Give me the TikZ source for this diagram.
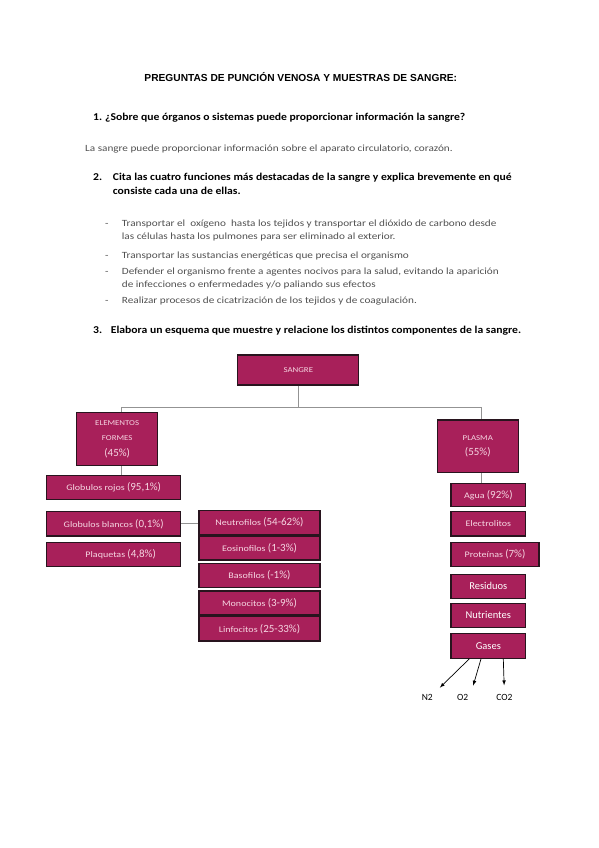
\documentclass[tikz,border=0pt]{standalone}
\usepackage{fontspec}
\setmainfont{Carlito}
\newfontfamily\titlefont{Liberation Sans}
\newfontfamily\hand[FakeStretch=1.18]{Carlito}
\newfontfamily\handb[FakeStretch=1.11]{Carlito}
\usepackage{xcolor}
\definecolor{sangreRed}{RGB}{168,32,90}
\definecolor{boxEdge}{RGB}{40,20,30}
\definecolor{boxText}{RGB}{246,214,226}
\definecolor{bodyGray}{RGB}{80,80,80}
\newcommand{\pct}[1]{{\normalfont\fontsize{11}{12}\selectfont #1}}

\begin{document}
\begin{tikzpicture}[x=1pt,y=-1pt,
    caja/.style 2 args={draw=boxEdge,line width=1.1pt,fill=sangreRed,text=boxText,
      font=\hand\fontsize{8.5}{9}\selectfont,inner sep=0pt,align=center,
      minimum width=#1,minimum height=#2},
    fuerte/.style={text=white,font=\fontsize{10.5}{12}\selectfont},
    link/.style={draw=gray!85,line width=0.8pt},
    resp/.style={anchor=base west,text=bodyGray,font=\hand\fontsize{9.5}{13.5}\selectfont,
      align=left,inner sep=0pt},
    preg/.style={anchor=base west,font=\handb\bfseries\fontsize{10.5}{14}\selectfont,
      align=left,inner sep=0pt}]
    \useasboundingbox (0,0) rectangle (599,848);
    % title and questions
    \node[font=\titlefont\bfseries\fontsize{10.2}{11}\selectfont] (title) at (300.8,77)
      {PREGUNTAS DE PUNCIÓN VENOSA Y MUESTRAS DE SANGRE:};
    \node[preg] (q1n) at (93,120.5) {1.};
    \node[preg] (q1) at (105,120.5) {¿Sobre que órganos o sistemas puede proporcionar información la sangre?};
    \node[resp] (r1) at (85,151) {La sangre puede proporcionar información sobre el aparato circulatorio, corazón.};
    \node[preg] (q2n) at (93,180.5) {2.};
    \node[preg] (q2) at (112.7,194.5) {Cita las cuatro funciones más destacadas de la sangre y explica brevemente en qué\\consiste cada una de ellas.};
    % list of functions
    \foreach \y in {226.3,258,274,303.7}
      \node[resp] at (105,\y) {-};
    \node[resp] (f1) at (121.7,239.8) {Transportar el \ oxígeno \ hasta los tejidos y transportar el dióxido de carbono desde\\las células hasta los pulmones para ser eliminado al exterior.};
    \node[resp] (f2) at (121.7,258) {Transportar las sustancias energéticas que precisa el organismo};
    \node[resp] (f3) at (121.7,287.5) {Defender el organismo frente a agentes nocivos para la salud, evitando la aparición\\de infecciones o enfermedades y/o paliando sus efectos};
    \node[resp] (f4) at (121.7,303.7) {Realizar procesos de cicatrización de los tejidos y de coagulación.};
    \node[preg] (q3n) at (93,333) {3.};
    \node[preg] (q3) at (110.7,333) {Elabora un esquema que muestre y relacione los distintos componentes de la sangre.};
    % boxes
    \node[caja={121pt}{30pt},font=\hand\fontsize{7.5}{8}\selectfont] (sangre) at (298.3,370) {SANGRE};
    \node[caja={81pt}{53pt},font=\hand\fontsize{7.5}{15.5}\selectfont] (elem) at (117.2,439.2) {ELEMENTOS\\FORMES\\\pct{(45\%)}};
    \node[caja={81pt}{52.7pt},font=\hand\fontsize{7.5}{15.5}\selectfont] (plasma) at (477.8,446.3) {PLASMA\\\pct{(55\%)}};
    \node[caja={134pt}{24.3pt}] (rojos) at (113.7,487.2) {Globulos rojos \pct{(95,1\%)}};
    \node[caja={134pt}{24.3pt}] (blancos) at (113.7,523.8) {Globulos blancos \pct{(0,1\%)}};
    \node[caja={134pt}{24.3pt}] (plaq) at (113.7,554.5) {\hspace{14pt}Plaquetas \pct{(4,8\%)}};
    \node[caja={121pt}{23.6pt}] (neutro) at (259.5,522.5) {Neutrofilos \pct{(54-62\%)}};
    \node[caja={121pt}{24pt}] (eosino) at (259.5,548) {Eosinofilos \pct{(1-3\%)}};
    \node[caja={121pt}{24pt}] (baso) at (259.5,575.3) {Basofilos \pct{(-1\%)}};
    \node[caja={121pt}{24pt}] (mono) at (259.5,603) {Monocitos \pct{(3-9\%)}};
    \node[caja={121pt}{24.3pt}] (linfo) at (259.5,628.8) {Linfocitos \pct{(25-33\%)}};
    \node[caja={74.7pt}{23.4pt}] (agua) at (488.3,495) {Agua \pct{(92\%)}};
    \node[caja={74.7pt}{24.3pt}] (electro) at (488.3,523.8) {Electrolitos};
    \node[caja={88pt}{24.3pt}] (prot) at (495,554.5) {Proteínas \pct{(7\%)}};
    \node[caja={74.7pt}{24pt},fuerte] (resid) at (488.3,586.3) {Residuos};
    \node[caja={74.7pt}{24pt},fuerte] (nutri) at (488.3,615.3) {Nutrientes};
    \node[caja={74.7pt}{25pt},fuerte] (gases) at (488.3,645.8) {Gases};
    % gases
    \node[font=\fontsize{9.5}{11}\selectfont] (n2) at (427.3,697.7) {N2};
    \node[font=\fontsize{9.5}{11}\selectfont] (o2) at (462.7,697) {O2};
    \node[font=\fontsize{9.5}{11}\selectfont] (co2) at (504.3,697) {CO2};
    % connectors
    \coordinate (bus) at (0,407);
    \draw[link] (sangre.south) -- (sangre.south |- bus);
    \draw[link] ([xshift=4.5pt]elem.north) -- ([xshift=4.5pt]elem.north |- bus)
      -- ([xshift=4pt]plasma.north |- bus) -- ([xshift=4pt]plasma.north);
    \draw[link] ([xshift=4.5pt]elem.south) -- ([xshift=4.5pt]elem.south |- rojos.north);
    \draw[link] ([xshift=4pt]plasma.south) -- ([xshift=4pt]plasma.south |- agua.north);
    \draw[link] (blancos.east) -- (blancos.east -| neutro.west);
    \draw[-latex,line width=0.7pt,shorten >=5pt] ([xshift=-19pt]gases.south) -- (n2.north east);
    \draw[-latex,line width=0.7pt,shorten >=5pt] ([xshift=-7.3pt]gases.south) -- (o2.north east);
    \draw[-latex,line width=0.7pt,shorten >=5pt] ([xshift=15pt]gases.south) -- (co2.north);
\end{tikzpicture}
\end{document}
